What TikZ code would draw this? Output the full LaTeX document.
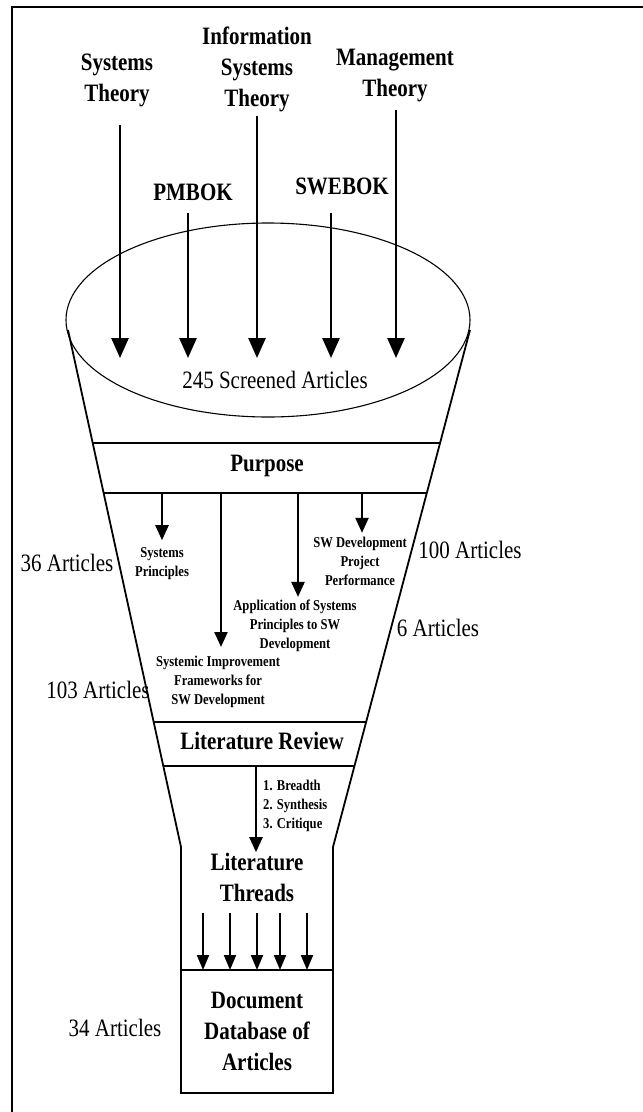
\documentclass[tikz,border=0pt]{standalone}
\usepackage{fontspec}
\setmainfont{Liberation Serif}[FakeStretch=0.84]
\usetikzlibrary{arrows.meta}

\begin{document}
\begin{tikzpicture}[x=1pt,y=-1pt,
  head/.style={font=\bfseries\fontsize{25}{31}\selectfont, align=center, inner sep=0pt},
  count/.style={font=\fontsize{25}{30}\selectfont, inner sep=0pt},
  topic/.style={font=\bfseries\fontsize{15}{19}\selectfont, align=center, inner sep=0pt},
  steps/.style={font=\bfseries\fontsize{15}{19}\selectfont, align=left, inner sep=0pt},
  outline/.style={line width=1.8pt, line join=miter},
  bigarrow/.style={line width=2.6pt, -{Triangle[width=17pt,length=20pt]}},
  midarrow/.style={line width=2.3pt, -{Triangle[width=13pt,length=15pt]}},
  smallarrow/.style={line width=2.1pt, -{Triangle[width=12pt,length=15pt]}},
  ]
\useasboundingbox (0,0) rectangle (643,1112);

% page frame (left and top edges)
\draw[line width=1.3pt] (12,1112) -- (12,7) -- (643,7);

% bowl of the funnel
\draw[line width=1.1pt] (268,320) ellipse [x radius=202pt, y radius=97pt];
\node[count] (screened) at (275,380) {245 Screened Articles};

% collection box at the bottom
\node[head, draw, line width=1.8pt, outer sep=0pt, minimum width=152pt,
      minimum height=123pt] (db) at (257,1031.5) {Document\\Database of\\Articles};

% funnel walls and neck
\draw[outline] (68,330) -- (181,847) -- (db.north west);
\draw[outline] (470,330) -- (333,847) -- (db.north east);

% horizontal bands
\draw[outline] (92.7,443) -- (440.1,443);
\draw[outline] (103.6,493) -- (426.8,493);
\draw[outline] (153.7,722) -- (366.1,722);
\draw[outline] (163.3,766) -- (354.5,766);
\node[head] (purpose) at (267,466) {Purpose};
\node[head] (litrev) at (262,741) {Literature Review};

% source disciplines feeding the funnel
\coordinate (t1) at (120,358);
\coordinate (t2) at (188,358);
\coordinate (t3) at (257,358);
\coordinate (t4) at (331,358);
\coordinate (t5) at (396,358);
\node[head] (st)  at (117,80.7) {Systems\\Theory};
\node[head] (ist) at (257,69)   {Information\\Systems\\Theory};
\node[head] (mt)  at (395,75.7) {Management\\Theory};
\node[head] (pm)  at (193,192)  {PMBOK};
\node[head] (sw)  at (342,186)  {SWEBOK};
\draw[bigarrow, shorten <=18pt] (st.south -| t1) -- (t1);
\draw[bigarrow, shorten <=12pt] (pm.south -| t2) -- (t2);
\draw[bigarrow, shorten <=4pt]  (ist.south -| t3) -- (t3);
\draw[bigarrow, shorten <=18pt] (sw.south -| t4) -- (t4);
\draw[bigarrow, shorten <=8pt]  (mt.south -| t5) -- (t5);

% research topics below the purpose band
\node[topic] (sp)  at (162,563.5) {Systems\\Principles};
\node[topic] (si)  at (218,682)   {Systemic Improvement\\Frameworks for\\SW Development};
\node[topic] (ap)  at (295,626)   {Application of Systems\\Principles to SW\\Development};
\node[topic] (swp) at (360,561.3) {SW Development\\Project\\Performance};
\coordinate (p1) at (162,493);
\coordinate (p2) at (221,493);
\coordinate (p3) at (298,493);
\coordinate (p4) at (362,493);
\draw[midarrow, shorten >=7pt] (p1) -- (p1 |- sp.north);
\draw[midarrow, shorten >=9pt] (p2) -- (p2 |- si.north);
\draw[midarrow, shorten >=3pt] (p3) -- (p3 |- ap.north);
\draw[midarrow, shorten >=4pt] (p4) -- (p4 |- swp.north);

% article counts
\node[count] (c36)  at (67,563)   {36 Articles};
\node[count] (c100) at (470,550)  {100 Articles};
\node[count] (c6)   at (438,628)  {6 Articles};
\node[count] (c103) at (98,690)   {103 Articles};
\node[count] (c34)  at (115,1028) {34 Articles};

% literature review to threads
\node[head] (lt) at (257,877.7) {Literature\\Threads};
\node[steps, anchor=west] (stp) at (263,806) {1. Breadth\\2. Synthesis\\3. Critique};
\coordinate (lrb) at (256,766);
\draw[midarrow, shorten >=1pt] (lrb) -- (lrb |- lt.north);

% threads into the database
\foreach \x [count=\i] in {203,230,257,280,307} {
  \coordinate (d\i) at (\x,970);
  \draw[smallarrow, shorten <=11pt] (lt.south -| d\i) -- (d\i);
}
\end{tikzpicture}
\end{document}
